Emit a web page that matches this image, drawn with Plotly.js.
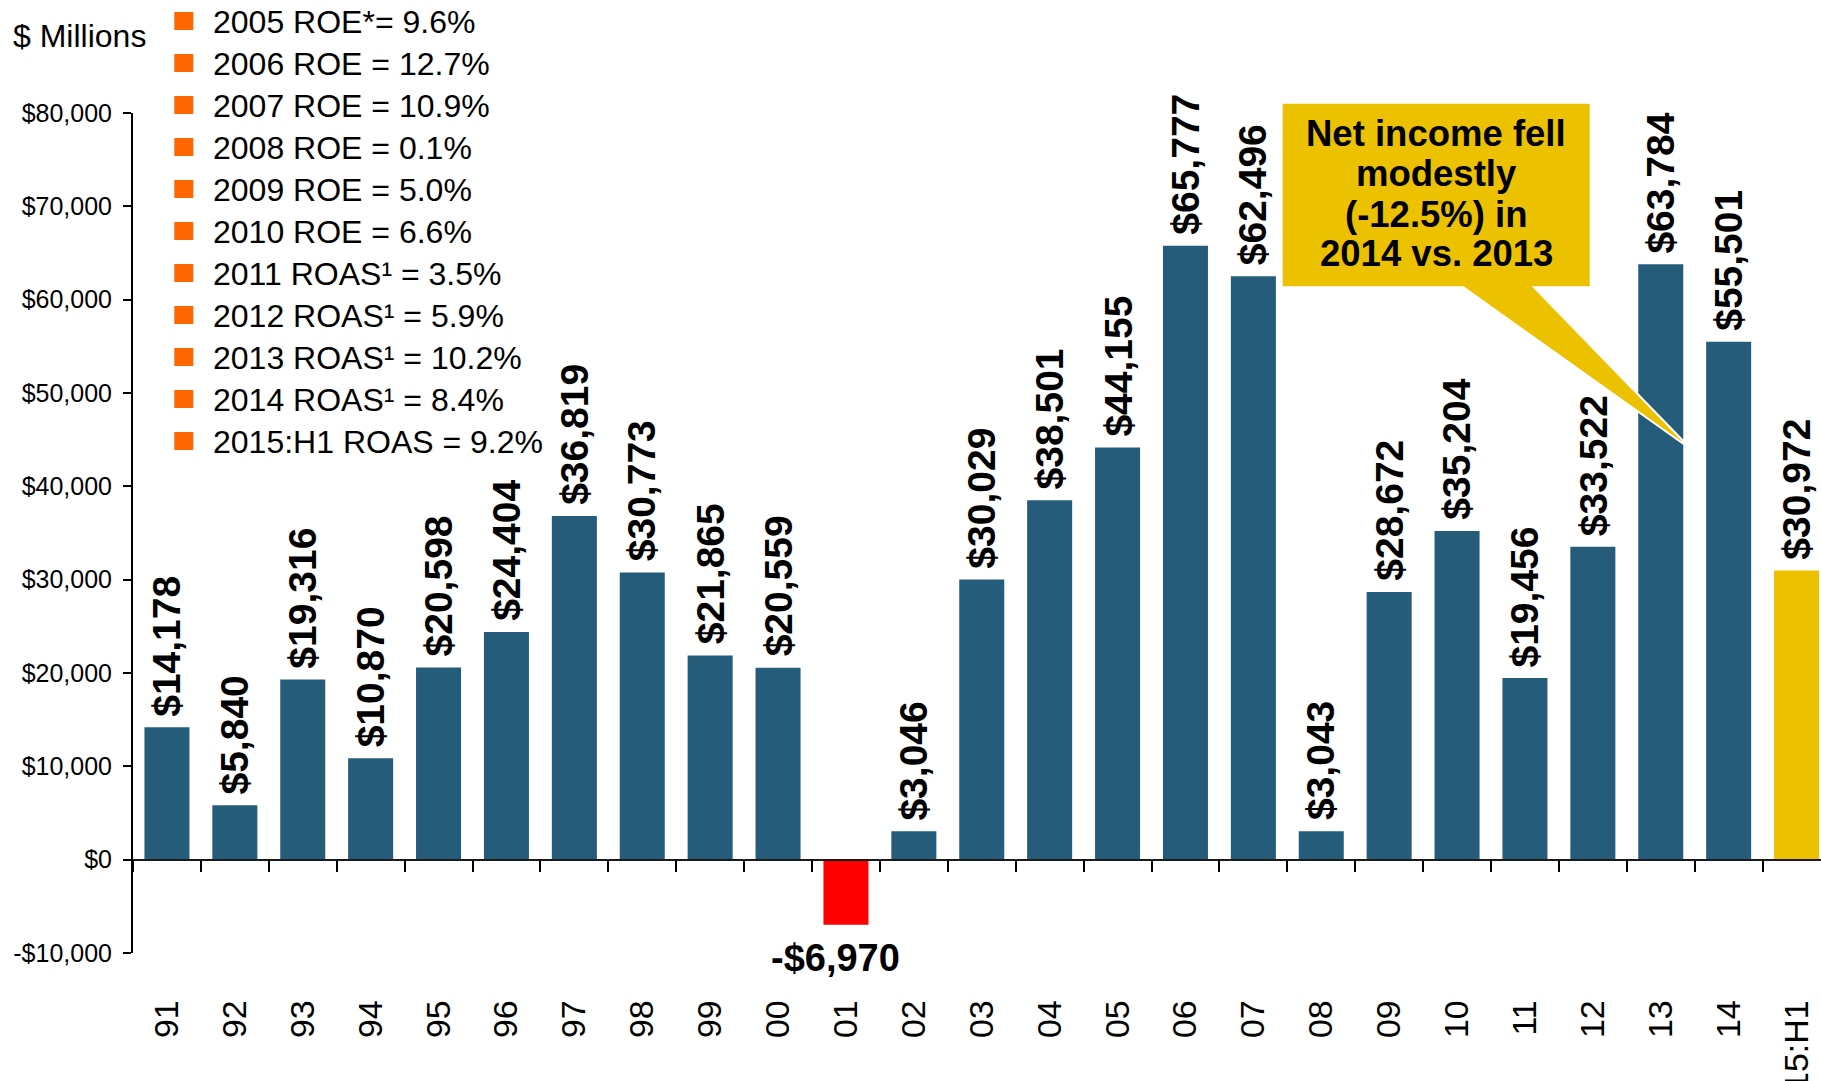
<!DOCTYPE html>
<html>
<head>
<meta charset="utf-8">
<script src="https://cdn.plot.ly/plotly-3.0.1.min.js"></script>
<style>
html,body{margin:0;padding:0;background:#fff;overflow:hidden;}
#chart{width:1821px;height:1081px;}
</style>
</head>
<body>
<div id="chart"></div>
<script>
// ---------- data ----------
const years = ['91','92','93','94','95','96','97','98','99','00','01','02','03','04','05','06','07','08','09','10','11','12','13','14','15:H1'];
const netIncome = [14178, 5840, 19316, 10870, 20598, 24404, 36819, 30773, 21865, 20559, -6970, 3046, 30029, 38501, 44155, 65777, 62496, 3043, 28672, 35204, 19456, 33522, 63784, 55501, 30972];
const partialPeriod = '15:H1';
const yTickVals = [-10000, 0, 10000, 20000, 30000, 40000, 50000, 60000, 70000, 80000];
const yTickText = ['-$10,000', '$0', '$10,000', '$20,000', '$30,000', '$40,000', '$50,000', '$60,000', '$70,000', '$80,000'];
const roeNotes = ['2005 ROE*= 9.6%', '2006 ROE = 12.7%', '2007 ROE = 10.9%', '2008 ROE = 0.1%', '2009 ROE = 5.0%', '2010 ROE = 6.6%', '2011 ROAS¹ = 3.5%', '2012 ROAS¹ = 5.9%', '2013 ROAS¹ = 10.2%', '2014 ROAS¹ = 8.4%', '2015:H1 ROAS = 9.2%'];
const calloutLines = ['Net income fell', 'modestly', '(-12.5%) in', '2014 vs. 2013'];
const unitLabel = '$ Millions';

// ---------- styles ----------
const FONT = 'Liberation Sans, Arial, sans-serif';
const BLUE = '#245C7A', RED = '#FF0000', GOLD = '#ECC100', ORANGE = '#FF6600';
const W = 1821, H = 1081, ML = 133, MR = 0, MT = 113, MB = 128;
const PW = W - ML - MR, PH = H - MT - MB;
const CAT_PX = 67.9;
const px = x => (x - ML) / PW;
const py = y => (H - MB - y) / PH;

const fmt = v => (v < 0 ? '-' : '') + '$' + Math.abs(v).toLocaleString('en-US');
const colors = years.map((c, i) => netIncome[i] < 0 ? RED : (c === partialPeriod ? GOLD : BLUE));

const trace = {
  type: 'bar', x: years, y: netIncome,
  marker: {color: colors, line: {width: 0}},
  hoverinfo: 'skip', showlegend: false
};

const annotations = [];
netIncome.forEach((v, i) => {
  if (v >= 0) {
    annotations.push({x: i, y: v, xref: 'x', yref: 'y', text: fmt(v), showarrow: false,
      textangle: -90, xanchor: 'center', yanchor: 'bottom', yshift: 9,
      font: {family: FONT, size: 39, color: '#000', weight: 'bold'}});
  } else {
    annotations.push({x: i, y: v, xref: 'x', yref: 'y', text: fmt(v), showarrow: false,
      xanchor: 'center', yanchor: 'top', yshift: -10, xshift: -10,
      font: {family: FONT, size: 38, color: '#000', weight: 'bold'}});
  }
});

annotations.push({xref: 'paper', yref: 'paper', x: px(11), y: py(36), xanchor: 'left', yanchor: 'middle',
  text: unitLabel, showarrow: false, font: {family: FONT, size: 32, color: '#000'}});

const shapes = [];
roeNotes.forEach((t, i) => {
  const cy = 21 + 42 * i;
  annotations.push({xref: 'paper', yref: 'paper', x: px(211), y: py(cy + 1), xanchor: 'left', yanchor: 'middle',
    text: t, showarrow: false, font: {family: FONT, size: 32, color: '#000'}});
  shapes.push({type: 'rect', xref: 'paper', yref: 'paper', x0: px(174.3), x1: px(193.3), y0: py(cy - 9), y1: py(cy + 9),
    fillcolor: ORANGE, line: {width: 0}});
});

// callout box with pointer
const bx0 = 1281.7, bx1 = 1590.7, by0 = 102.7, by1 = 287.3;
const pl = 1463.3, pr = 1534, tipX = 1692, tipY = 450;
const pts = [[bx0, by0], [bx1, by0], [bx1, by1], [pr, by1], [tipX, tipY], [pl, by1], [bx0, by1]];
shapes.push({type: 'path', xref: 'paper', yref: 'paper',
  path: 'M' + pts.map(p => px(p[0]) + ',' + py(p[1])).join(' L') + ' Z',
  fillcolor: GOLD, line: {color: '#FFFFFF', width: 2}, layer: 'above'});

const lineY = [133, 173.5, 214, 254];
calloutLines.forEach((t, i) => {
  annotations.push({xref: 'paper', yref: 'paper', x: px((bx0 + bx1) / 2), y: py(lineY[i]), xanchor: 'center', yanchor: 'middle',
    text: t, showarrow: false, font: {family: FONT, size: 36.5, color: '#000', weight: 'bold'}});
});

const layout = {
  width: W, height: H,
  margin: {l: ML, r: MR, t: MT, b: MB, pad: 0},
  paper_bgcolor: '#fff', plot_bgcolor: '#fff',
  bargap: 0.337,
  showlegend: false,
  font: {family: FONT, color: '#000'},
  xaxis: {
    type: 'category', categoryorder: 'array', categoryarray: years,
    range: [-0.5, -0.5 + PW / CAT_PX],
    anchor: 'free', position: 10000 / 90000,
    showline: true, linecolor: '#1a1a1a', linewidth: 2,
    ticks: 'outside', tickson: 'boundaries', ticklen: 11, tickwidth: 2, tickcolor: '#000',
    showgrid: false, zeroline: false,
    tickangle: -90, ticklabelstandoff: 126,
    tickfont: {family: FONT, size: 34, color: '#000'},
    automargin: false, fixedrange: true
  },
  yaxis: {
    range: [-10000, 80000], tickvals: yTickVals, ticktext: yTickText,
    showline: true, linecolor: '#000', linewidth: 2,
    ticks: 'outside', ticklen: 8, tickwidth: 2, tickcolor: '#000',
    showgrid: false, zeroline: false,
    ticklabelstandoff: 6,
    tickfont: {family: FONT, size: 25, color: '#000'},
    automargin: false, fixedrange: true
  },
  annotations: annotations,
  shapes: shapes
};

Plotly.newPlot('chart', [trace], layout, {displayModeBar: false, staticPlot: true});
</script>
</body>
</html>
